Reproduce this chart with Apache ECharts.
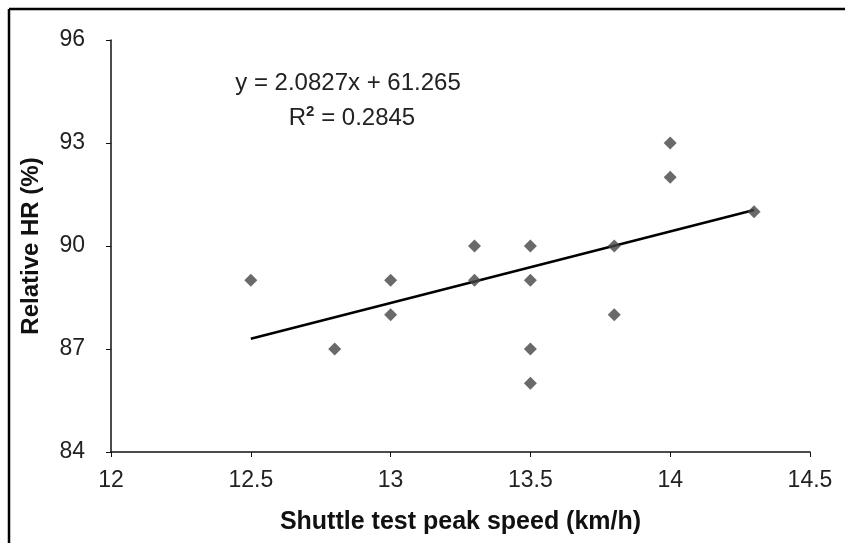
<!DOCTYPE html>
<html>
<head>
<meta charset="utf-8">
<script src="https://cdn.jsdelivr.net/npm/echarts@6/dist/echarts.min.js"></script>
<style>
  html, body { margin: 0; padding: 0; background: #fff; }
  #chart { width: 845px; height: 543px; }
</style>
</head>
<body>
<div id="chart"></div>
<script>
// speed (km/h) vs relative HR (%)
const speeds = [12.5, 12.8, 13, 13, 13.3, 13.3, 13.5, 13.5, 13.5, 13.5, 13.8, 13.8, 14, 14, 14.3]
const relHR = [89, 87, 89, 88, 90, 89, 90, 89, 87, 86, 90, 88, 93, 92, 91]

// linear trendline end points
const trendX = [12.5, 14.3]
const trendY = [87.3, 91.05]

const xTicks = [12, 12.5, 13, 13.5, 14, 14.5]
const yTicks = [84, 87, 90, 93, 96]

const equationText = 'y = 2.0827x + 61.265'
const r2Value = '0.2845'

const tickFont = '"Liberation Sans", Arial, sans-serif'
const boldFont = '"Liberation Sans", Arial, sans-serif'

const chart = echarts.init(document.getElementById('chart'))

chart.setOption({
  animation: false,
  backgroundColor: '#fff',
  grid: { left: 111, right: 35, top: 40, bottom: 91 },
  xAxis: {
    type: 'value',
    min: xTicks[0],
    max: xTicks[xTicks.length - 1],
    interval: 0.5,
    splitLine: { show: false },
    axisLine: { onZero: false, lineStyle: { color: '#111', width: 1.5 } },
    axisTick: { show: true, length: 5, lineStyle: { color: '#111', width: 1 } },
    axisLabel: {
      margin: 17,
      fontSize: 23,
      fontFamily: tickFont,
      color: '#222',
      formatter: (v) => String(v)
    },
    name: 'Shuttle test peak speed (km/h)',
    nameLocation: 'middle',
    nameGap: 58,
    nameTextStyle: { fontSize: 25, fontWeight: 'bold', fontFamily: boldFont, color: '#111' }
  },
  yAxis: {
    type: 'value',
    min: yTicks[0],
    max: yTicks[yTicks.length - 1],
    interval: 3,
    splitLine: { show: false },
    axisLine: { onZero: false, lineStyle: { color: '#111', width: 1.5 } },
    axisTick: { show: true, length: 5, lineStyle: { color: '#111', width: 1 } },
    axisLabel: {
      margin: 26,
      fontSize: 23,
      fontFamily: tickFont,
      color: '#222'
    },
    name: 'Relative HR (%)',
    nameLocation: 'middle',
    nameGap: 68,
    nameTextStyle: { fontSize: 24, fontWeight: 'bold', fontFamily: boldFont, color: '#111' }
  },
  series: [
    {
      type: 'line',
      data: trendX.map((x, i) => [x, trendY[i]]),
      symbol: 'none',
      lineStyle: { color: '#000', width: 2.5 },
      z: 3
    },
    {
      type: 'scatter',
      data: speeds.map((x, i) => [x, relHR[i]]),
      symbol: 'diamond',
      symbolSize: [13, 13],
      itemStyle: { color: '#454545' },
      z: 4
    }
  ],
  graphic: [
    {
      type: 'line',
      shape: { x1: 9, y1: 9, x2: 845, y2: 9 },
      style: { stroke: '#000', lineWidth: 2.5 }
    },
    {
      type: 'line',
      shape: { x1: 9, y1: 9, x2: 9, y2: 543 },
      style: { stroke: '#000', lineWidth: 2.5 }
    },
    {
      type: 'text',
      x: 348,
      y: 83,
      style: {
        text: equationText,
        fontSize: 24,
        fontFamily: tickFont,
        fill: '#222',
        textAlign: 'center',
        textVerticalAlign: 'middle'
      }
    },
    {
      type: 'text',
      x: 352,
      y: 118,
      style: {
        text: 'R{sup|2} = ' + r2Value,
        fontSize: 24,
        fontFamily: tickFont,
        fill: '#222',
        textAlign: 'center',
        textVerticalAlign: 'middle',
        rich: {
          sup: {
            fontSize: 15,
            fontWeight: 'bold',
            fontFamily: tickFont,
            fill: '#222',
            verticalAlign: 'top',
            padding: [0, 0, 12, 0]
          }
        }
      }
    }
  ]
})
</script>
</body>
</html>
